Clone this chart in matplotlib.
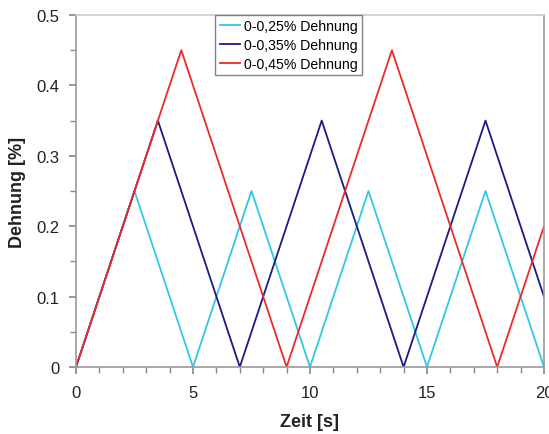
import matplotlib
matplotlib.use("Agg")
import matplotlib.pyplot as plt
from matplotlib.ticker import MultipleLocator, FuncFormatter

plt.rcParams['font.family'] = ['Liberation Sans', 'DejaVu Sans']

# Eckpunkte der Dreiecksverläufe (Zeit in s, Dehnung in %)
t_025 = [0, 2.5, 5, 7.5, 10, 12.5, 15, 17.5, 20]
e_025 = [0, 0.25, 0, 0.25, 0, 0.25, 0, 0.25, 0]
t_035 = [0, 3.5, 7, 10.5, 14, 17.5, 20]
e_035 = [0, 0.35, 0, 0.35, 0, 0.35, 0.1]
t_045 = [0, 4.5, 9, 13.5, 18, 20]
e_045 = [0, 0.45, 0, 0.45, 0, 0.2]

labels = ['0-0,25% Dehnung', '0-0,35% Dehnung', '0-0,45% Dehnung']
colors = ['#30c8e8', '#1c1c80', '#ee2a2a']

fig = plt.figure(figsize=(5.49, 4.35), dpi=100)
ax = fig.add_axes([76/549, 1-368/435, (544-76)/549, (368-16)/435])

ax.plot(t_025, e_025, color=colors[0], lw=1.3, label=labels[0])
ax.plot(t_035, e_035, color=colors[1], lw=1.3, label=labels[1])
ax.plot(t_045, e_045, color=colors[2], lw=1.3, label=labels[2])

ax.set_xlim(0, 20)
ax.set_ylim(0, 0.5)
ax.xaxis.set_major_locator(MultipleLocator(5))
ax.xaxis.set_minor_locator(MultipleLocator(1))
ax.yaxis.set_major_locator(MultipleLocator(0.1))
ax.yaxis.set_minor_locator(MultipleLocator(0.05))
ax.yaxis.set_major_formatter(FuncFormatter(lambda v, p: '0' if abs(v) < 1e-9 else f'{v:.1f}'))
ax.xaxis.set_major_formatter(FuncFormatter(lambda v, p: f'{v:.0f}'))

for s in ax.spines.values():
    s.set_color('#999999')
    s.set_linewidth(1.2)
ax.spines['top'].set_color('#cccccc')
ax.tick_params(which='both', color='#888888', labelsize=12, labelcolor='#222222')
ax.tick_params(which='major', length=5, width=1.2)
ax.tick_params(which='minor', length=4, width=1.0)
ax.tick_params(axis='x', which='major', pad=8)
ax.tick_params(axis='y', which='major', pad=7)

ax.set_xlabel('Zeit [s]', fontsize=13, fontweight='bold', labelpad=9, color='#222222')
ax.set_ylabel('Dehnung [%]', fontsize=13, fontweight='bold', labelpad=7, color='#222222')

leg = ax.legend(loc='upper left', bbox_to_anchor=(0.298, 1.0), fontsize=10.2,
                frameon=True, fancybox=False, handlelength=1.4, handletextpad=0.3,
                borderpad=0.3, labelspacing=0.35, borderaxespad=0)
leg.get_frame().set_edgecolor('#666666')
leg.get_frame().set_linewidth(1.0)

fig.savefig('out.png', dpi=100)
